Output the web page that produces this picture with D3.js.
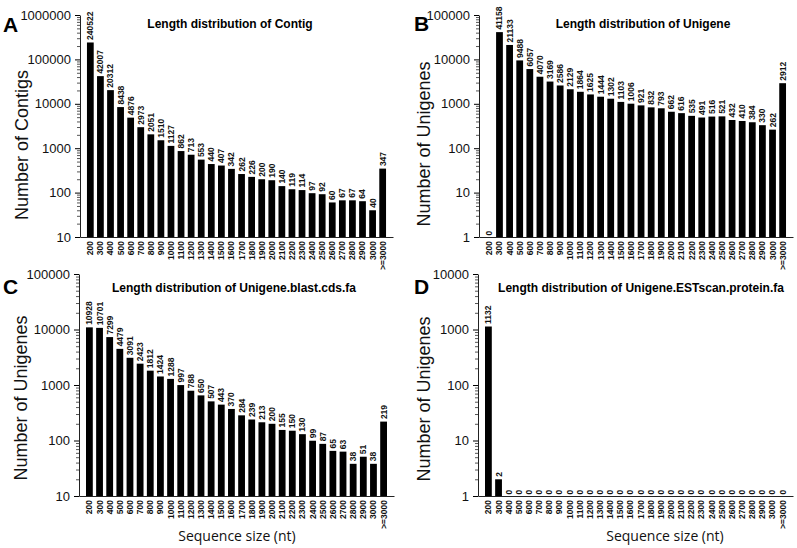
<!DOCTYPE html>
<html>
<head>
<meta charset="utf-8">
<script src="https://cdn.jsdelivr.net/npm/d3@7"></script>
<style>
  html, body { margin: 0; padding: 0; background: #fff; }
  svg { display: block; }
</style>
</head>
<body>
<svg id="chart" width="797" height="548"></svg>
<script>
// ---------- data ----------
const categories = ["200","300","400","500","600","700","800","900","1000","1100","1200","1300","1400","1500","1600","1700","1800","1900","2000","2100","2200","2300","2400","2500","2600","2700","2800","2900","3000",">=3000"];

const contigCounts = [240522,42007,20312,8438,4876,2973,2051,1510,1127,862,713,553,440,407,342,262,226,200,190,140,119,114,97,92,60,67,67,64,40,347];
const unigeneCounts = [0,41158,21133,9488,6057,4070,3169,2586,2129,1864,1625,1444,1302,1103,1006,921,832,793,662,616,535,491,516,521,432,410,384,330,262,2912];
const blastCdsCounts = [10928,10701,7299,4479,3091,2423,1812,1424,1288,997,788,650,507,443,370,284,239,213,200,155,150,130,99,87,65,63,38,51,38,219];
const estscanCounts = [1132,2,0,0,0,0,0,0,0,0,0,0,0,0,0,0,0,0,0,0,0,0,0,0,0,0,0,0,0,0];

const panelLetters = ["A","B","C","D"];
const panelTitles = ["Length distribution of Contig","Length distribution of Unigene","Length distribution of Unigene.blast.cds.fa","Length distribution of Unigene.ESTscan.protein.fa"];
const yTitles = ["Number of Contigs","Number of Unigenes","Number of Unigenes","Number of Unigenes"];
const xTitle = "Sequence size (nt)";
const yDomains = [[10,1e6],[1,1e5],[10,1e5],[1,1e4]];

// ---------- layout ----------
const layouts = [
  {values: contigCounts,  left: 80,  right: 393, top: 15,  bottom: 237, letter:[3,32],   title:[230,28],  yt:[22,145],  xt:null},
  {values: unigeneCounts, left: 479, right: 793, top: 15,  bottom: 237, letter:[414,31], title:[643,28],  yt:[424,144], xt:null},
  {values: blastCdsCounts,left: 79,  right: 394, top: 274, bottom: 496, letter:[3,294],  title:[234,292], yt:[21,398],  xt:[237,541]},
  {values: estscanCounts, left: 478, right: 793, top: 274, bottom: 496, letter:[414,294],title:[641,292], yt:[424,399], xt:[665,541]}
];

const svg = d3.select("#chart");
const FONT = "'Liberation Sans', Arial, sans-serif";

layouts.forEach((L, i) => {
  const g = svg.append("g");
  const x = d3.scaleBand().domain(categories).range([L.left, L.right]).paddingInner(0.33).paddingOuter(0.69);
  const y = d3.scaleLog().domain(yDomains[i]).range([L.bottom, L.top]);

  // minor ticks
  const [d0, d1] = yDomains[i];
  const minor = [];
  for (let p = Math.round(Math.log10(d0)); p < Math.round(Math.log10(d1)); p++) {
    for (let k = 2; k <= 9; k++) minor.push(k * Math.pow(10, p));
  }
  const major = [];
  for (let p = Math.round(Math.log10(d0)); p <= Math.round(Math.log10(d1)); p++) major.push(Math.pow(10, p));

  g.append("g").attr("transform", `translate(${L.left},0)`)
    .call(d3.axisLeft(y).tickValues(minor).tickSize(3).tickFormat(""))
    .call(s => s.select(".domain").remove())
    .call(s => s.selectAll("line").attr("stroke", "#555"));

  g.append("g").attr("transform", `translate(${L.left},0)`)
    .call(d3.axisLeft(y).tickValues(major).tickSize(5).tickSizeOuter(0).tickFormat(d3.format("d")))
    .call(s => s.select(".domain").attr("stroke", "#222"))
    .call(s => s.selectAll("text").attr("font-family", FONT).attr("font-size", 13).attr("fill", "#111").attr("dx", "-1"));

  // x axis
  const xa = g.append("g").attr("transform", `translate(0,${L.bottom})`)
    .call(d3.axisBottom(x).tickSize(0).tickSizeOuter(0));
  xa.select(".domain").attr("stroke", "#222");
  xa.selectAll("text")
    .attr("font-family", FONT).attr("font-size", 8.5).attr("font-weight", "bold").attr("fill", "#111")
    .attr("text-anchor", "end")
    .attr("transform", "rotate(-90)")
    .attr("x", -4).attr("y", 0).attr("dy", "0.35em");

  // bars
  g.selectAll("rect.bar").data(L.values.map((v, j) => ({c: categories[j], v})).filter(d => d.v > 0))
    .enter().append("rect")
    .attr("x", d => x(d.c)).attr("width", x.bandwidth())
    .attr("y", d => y(Math.max(d.v, d0)))
    .attr("height", d => L.bottom - y(Math.max(d.v, d0)))
    .attr("fill", "#000");

  // value labels
  g.selectAll("text.val").data(L.values.map((v, j) => ({c: categories[j], v})))
    .enter().append("text")
    .attr("font-family", FONT).attr("font-size", 8.5).attr("font-weight", "bold").attr("fill", "#111")
    .attr("transform", d => {
      const yy = d.v > 0 ? y(Math.max(d.v, d0)) - 2.5 : L.bottom - 1.5;
      return `translate(${x(d.c) + x.bandwidth() / 2},${yy}) rotate(-90)`;
    })
    .attr("dy", "0.35em")
    .text(d => d.v);

  // panel letter
  g.append("text").attr("x", L.letter[0]).attr("y", L.letter[1])
    .attr("font-family", FONT).attr("font-size", 21).attr("font-weight", "bold").attr("fill", "#000")
    .text(panelLetters[i]);

  // title
  g.append("text").attr("x", L.title[0]).attr("y", L.title[1]).attr("text-anchor", "middle")
    .attr("font-family", FONT).attr("font-size", 12).attr("font-weight", "bold").attr("fill", "#000")
    .text(panelTitles[i]);

  // y title
  g.append("text").attr("transform", `translate(${L.yt[0]},${L.yt[1]}) rotate(-90)`)
    .attr("text-anchor", "middle").attr("dy", "0.35em")
    .attr("font-family", FONT).attr("font-size", 18).attr("fill", "#111")
    .text(yTitles[i]);

  if (L.xt) {
    g.append("text").attr("x", L.xt[0]).attr("y", L.xt[1]).attr("text-anchor", "middle")
      .attr("font-family", "'Open Sans', sans-serif").attr("font-size", 14).attr("fill", "#111")
      .text(xTitle);
  }
});
</script>
</body>
</html>
